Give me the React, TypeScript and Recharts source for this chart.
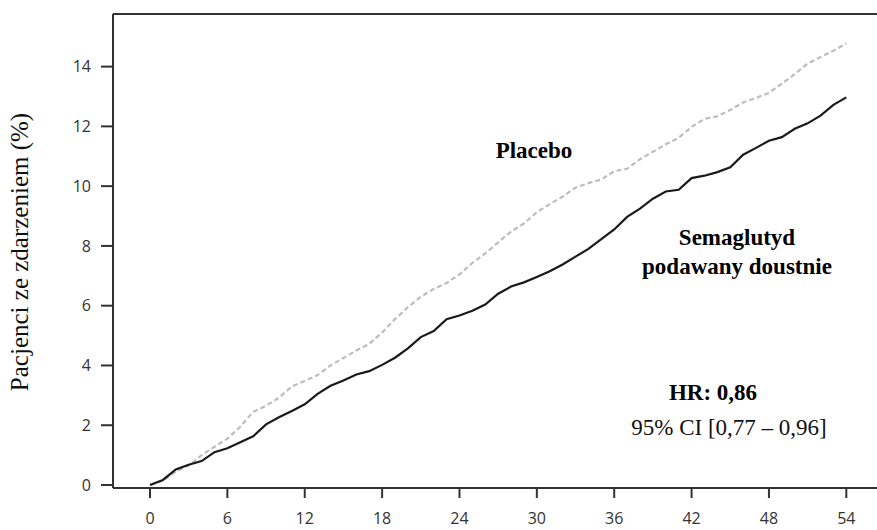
import { Line, LineChart, ReferenceLine, XAxis, YAxis } from "recharts";

const months = [
  0, 1, 2, 3, 4, 5, 6, 7, 8, 9, 10, 11, 12, 13, 14, 15, 16, 17, 18, 19, 20, 21, 22, 23, 24, 25, 26,
  27, 28, 29, 30, 31, 32, 33, 34, 35, 36, 37, 38, 39, 40, 41, 42, 43, 44, 45, 46, 47, 48, 49, 50, 51,
  52, 53, 54,
];

// semaglutyd doustnie (solid black)
const semaglutide = [
  0, 0.17, 0.52, 0.68, 0.8, 1.1, 1.23, 1.43, 1.63, 2.03, 2.27, 2.48, 2.7, 3.05, 3.32, 3.5, 3.7, 3.81,
  4.02, 4.26, 4.57, 4.95, 5.15, 5.55, 5.67, 5.83, 6.04, 6.4, 6.64, 6.78, 6.96, 7.15, 7.38, 7.64, 7.9,
  8.23, 8.55, 8.97, 9.25, 9.58, 9.82, 9.88, 10.27, 10.35, 10.47, 10.63, 11.05, 11.28, 11.52, 11.64,
  11.92, 12.1, 12.36, 12.72, 12.97,
];

// placebo (grey dashed)
const placebo = [
  0, 0.15, 0.45, 0.65, 1.0, 1.28, 1.55, 1.95, 2.45, 2.65, 2.92, 3.3, 3.48, 3.68, 4.0, 4.25, 4.5, 4.72,
  5.1, 5.55, 5.95, 6.3, 6.56, 6.76, 7.05, 7.43, 7.75, 8.12, 8.48, 8.75, 9.13, 9.4, 9.65, 9.95, 10.1,
  10.22, 10.5, 10.58, 10.9, 11.15, 11.4, 11.62, 11.98, 12.25, 12.34, 12.55, 12.8, 12.95, 13.12, 13.43,
  13.75, 14.1, 14.32, 14.53, 14.78,
];

const xTicks = [0, 6, 12, 18, 24, 30, 36, 42, 48, 54];
const yTicks = [0, 2, 4, 6, 8, 10, 12, 14];
const yMax = 15.76;

const rows = months.map((m, i) => ({ month: m, sema: semaglutide[i], placebo: placebo[i] }));

const axisColor = "#333";
const tickStyle = { fontSize: 16, fill: "#333", fontFamily: "'Open Sans', sans-serif" };
const serif = { fontFamily: "'Liberation Serif', 'Times New Roman', serif" };

export default function App() {
  return (
    <div style={{ position: "absolute", left: 0, top: 0, width: 877, height: 530, background: "#fff" }}>
      <LineChart width={877} height={530} data={rows} margin={{ top: 14, right: 0, bottom: 0, left: 0 }}>
        <XAxis
          type="number"
          dataKey="month"
          domain={[-2.87, 56.38]}
          allowDataOverflow
          ticks={xTicks}
          height={42}
          tick={tickStyle}
          tickSize={10}
          tickMargin={15}
          tickLine={{ stroke: axisColor, strokeWidth: 2 }}
          axisLine={{ stroke: axisColor, strokeWidth: 2 }}
        />
        <YAxis
          type="number"
          domain={[-0.1, yMax]}
          allowDataOverflow
          ticks={yTicks}
          width={113}
          tick={tickStyle}
          tickSize={12}
          tickMargin={10}
          tickLine={{ stroke: axisColor, strokeWidth: 2 }}
          axisLine={{ stroke: axisColor, strokeWidth: 2 }}
        />
        <ReferenceLine y={yMax} stroke={axisColor} strokeWidth={2} />
        <Line
          type="linear"
          dataKey="placebo"
          stroke="#bdbdbd"
          strokeWidth={2.2}
          strokeDasharray="5 3"
          dot={false}
          isAnimationActive={false}
        />
        <Line
          type="linear"
          dataKey="sema"
          stroke="#1a1a1a"
          strokeWidth={2.2}
          dot={false}
          isAnimationActive={false}
        />
      </LineChart>
      <svg
        width={877}
        height={530}
        style={{ position: "absolute", left: 0, top: 0, pointerEvents: "none", ...serif }}
      >
        <text x={28} y={252} transform="rotate(-90, 28, 252)" textAnchor="middle" fontSize={25} fill="#111">
          Pacjenci ze zdarzeniem (%)
        </text>
        <text x={534} y={158} textAnchor="middle" fontSize={23} fontWeight="bold" fill="#000">
          Placebo
        </text>
        <text x={737} y={245} textAnchor="middle" fontSize={23} fontWeight="bold" fill="#000">
          Semaglutyd
        </text>
        <text x={737} y={274} textAnchor="middle" fontSize={23} fontWeight="bold" fill="#000">
          podawany doustnie
        </text>
        <text x={713} y={400} textAnchor="middle" fontSize={23} fontWeight="bold" fill="#000">
          HR: 0,86
        </text>
        <text x={729} y={435} textAnchor="middle" fontSize={23} fill="#111">
          95% CI [0,77 – 0,96]
        </text>
      </svg>
    </div>
  );
}
